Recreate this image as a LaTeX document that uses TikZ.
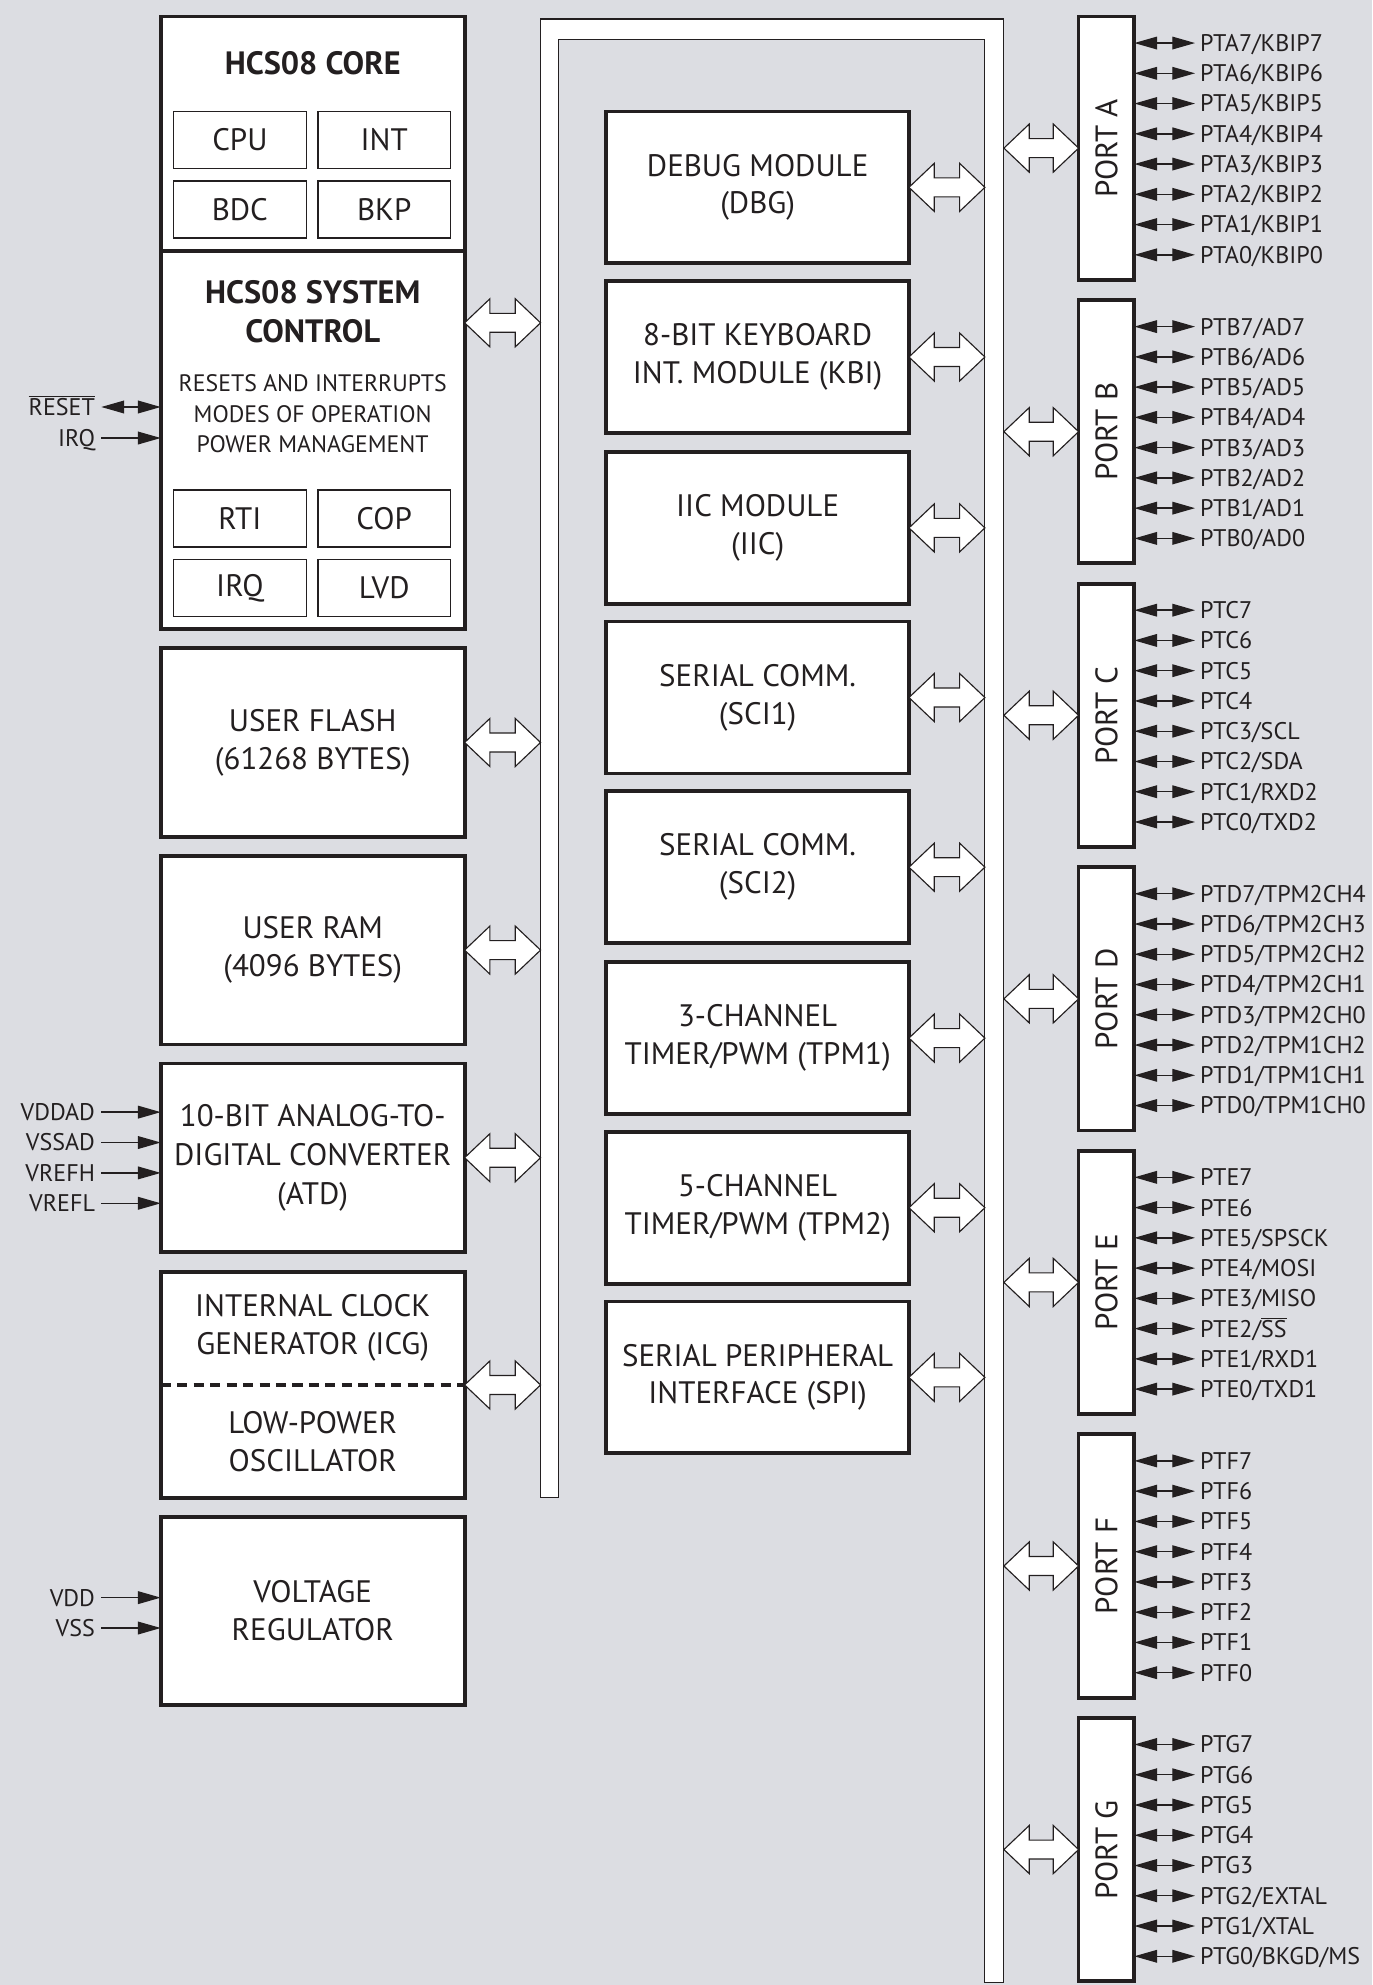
\documentclass[tikz,border=0pt]{standalone}
\usepackage{fontspec}
\setmainfont{PT Sans}
\usetikzlibrary{arrows.meta,calc}
\definecolor{bg}{RGB}{220,221,226}
\definecolor{ink}{RGB}{35,31,32}
\newcommand\fMod{\fontsize{24.5}{30}\selectfont}
\newcommand\fTitle{\fontsize{25.5}{31}\selectfont\bfseries}
\newcommand\fSmall{\fontsize{18.8}{24}\selectfont}
\newcommand\fPin{\fontsize{19}{24}\selectfont}
\newcommand\hollowarr[2]{%
  \draw[hollow] let \p1=(#1), \p2=(#2) in
   (\x1,\y1) -- (\x1+20pt,\y1+19pt) -- (\x1+20pt,\y1+7.5pt) -- (\x2-20pt,\y1+7.5pt)
   -- (\x2-20pt,\y1+19pt) -- (\x2,\y1) -- (\x2-20pt,\y1-19pt) -- (\x2-20pt,\y1-7.5pt)
   -- (\x1+20pt,\y1-7.5pt) -- (\x1+20pt,\y1-19pt) -- cycle;}
\newcommand\portbox[2]{%
  \def\curP{#1}\def\curI{#2}%
  \node[portbox] (port#1) at (874,{117+224*#2}) {};
  \node[rotate=90,font=\fMod,text=ink] (plab#1) at (port#1) {PORT #1};
  \hollowarr{port#1.west -| busR}{port#1.west}}
\newcommand\onepin[2]{%
  \node[pinlab] (pin\curP#1) at (944,{13+224*\curI+21+23.9*#1}) {#2};
  \draw[pinarr] (port\curP.east |- pin\curP#1.west) -- (pin\curP#1.west);}
\newcommand\pins[8]{\onepin{0}{#1}\onepin{1}{#2}\onepin{2}{#3}\onepin{3}{#4}%
  \onepin{4}{#5}\onepin{5}{#6}\onepin{6}{#7}\onepin{7}{#8}}
\begin{document}
\begin{tikzpicture}[x=1pt,y=-1pt,
  bigbox/.style={draw=ink,fill=white,line width=3pt,inner sep=0pt,outer sep=0pt,
    align=center,font=\fMod,text=ink},
  subbox/.style={draw=ink,fill=white,line width=1.2pt,minimum width=105,
    minimum height=45,inner sep=0pt,outer sep=0pt,font=\fMod,text=ink},
  modbox/.style={bigbox,minimum width=239,minimum height=120},
  leftbox/.style={bigbox,minimum width=240,minimum height=149},
  portbox/.style={draw=ink,fill=white,line width=3pt,minimum width=44,
    minimum height=208,inner sep=0pt,outer sep=0pt},
  hollow/.style={draw=ink,fill=white,line width=0.9pt,line join=miter},
  pinlab/.style={anchor=west,inner xsep=4pt,inner ysep=0pt,outer sep=0pt,
    text height=13.3pt,text depth=0pt,font=\fPin,text=ink},
  inlab/.style={anchor=east,inner xsep=5pt,inner ysep=0pt,outer sep=0pt,
    text height=13.3pt,text depth=0pt,font=\fPin,text=ink},
  pinarr/.style={draw=ink,line width=1.1pt,
    {Triangle[length=18pt,width=10pt]}-{Triangle[length=18pt,width=10pt]}},
  inarr/.style={draw=ink,line width=1.1pt,-{Triangle[length=18pt,width=10pt]}},
]
\path[fill=bg] (0,0) rectangle (1084,1568);
\useasboundingbox (0,0) rectangle (1084,1568);

% bus
\path[draw=ink,fill=white,line width=0.9pt]
  (427,1183) -- (427,15) -- (793,15) -- (793,1566) -- (778,1566)
  -- (778,31) -- (441,31) -- (441,1183) -- cycle;
\coordinate (busL) at (427,0);
\coordinate (busLi) at (441,0);
\coordinate (busRi) at (778,0);
\coordinate (busR) at (793,0);

% core
\node[bigbox,minimum width=240,minimum height=185] (core) at (247,105.5) {};
\node[font=\fTitle,text=ink] (coretitle) at (247,50) {HCS08 CORE};
\node[subbox] (cpu) at (189.5,110.5) {CPU};
\node[subbox] (int) at (303.5,110.5) {INT};
\node[subbox] (bdc) at (189.5,165.5) {BDC};
\node[subbox] (bkp) at (303.5,165.5) {BKP};

% system control
\node[bigbox,minimum width=240,minimum height=299] (sys) at (247,347.5) {};
\node[font=\fTitle,text=ink,align=center] (systitle) at (247,246.5) {HCS08 SYSTEM\\CONTROL};
\node[font=\fSmall,text=ink,align=center] (sysdesc) at (247,327)
  {RESETS AND INTERRUPTS\\MODES OF OPERATION\\POWER MANAGEMENT};
\node[subbox] (rti) at (189.5,409.5) {RTI};
\node[subbox] (cop) at (303.5,409.5) {COP};
\node[subbox] (irq) at (189.5,464.5) {IRQ};
\node[subbox] (lvd) at (303.5,464.5) {LVD};

\node[inlab] (reset) at (80,321.5) {$\overline{\mbox{RESET}}$};
\node[inlab] (irqin) at (80,346) {IRQ};
\draw[pinarr] (reset.east) -- (reset.east -| sys.west);
\draw[inarr] (irqin.east) -- (irqin.east -| sys.west);

% left column
\node[leftbox] (flash) at (247,586.5) {USER FLASH\\(61268 BYTES)};
\node[leftbox] (ram) at (247,750.5) {USER RAM\\(4096 BYTES)};
\node[leftbox,font=\fontsize{24.5}{31}\selectfont] (atd) at (247,914.5)
  {10-BIT ANALOG-TO-\\DIGITAL CONVERTER\\(ATD)};
\node[bigbox,minimum width=240,minimum height=178] (icg) at (247,1094) {};
\draw[ink,line width=2.6pt,dash pattern=on 8pt off 5pt] (icg.west) -- (icg.east);
\node[font=\fMod,text=ink,align=center] (icgtext) at (247,1049) {INTERNAL CLOCK\\GENERATOR (ICG)};
\node[font=\fMod,text=ink,align=center] (osctext) at (247,1139) {LOW-POWER\\OSCILLATOR};
\node[leftbox] (vreg) at (247,1272.5) {VOLTAGE\\REGULATOR};

\node[inlab] (vddad) at (80,878.5) {VDDAD};
\node[inlab] (vssad) at (80,902.5) {VSSAD};
\node[inlab] (vrefh) at (80,926.5) {VREFH};
\node[inlab] (vrefl) at (80,950.5) {VREFL};
\draw[inarr] (vddad.east) -- (vddad.east -| atd.west);
\draw[inarr] (vssad.east) -- (vssad.east -| atd.west);
\draw[inarr] (vrefh.east) -- (vrefh.east -| atd.west);
\draw[inarr] (vrefl.east) -- (vrefl.east -| atd.west);
\node[inlab] (vdd) at (80,1262) {VDD};
\node[inlab] (vss) at (80,1286) {VSS};
\draw[inarr] (vdd.east) -- (vdd.east -| vreg.west);
\draw[inarr] (vss.east) -- (vss.east -| vreg.west);

% left bus arrows
\coordinate (sysA) at (367,255);
\hollowarr{sysA}{sysA -| busL}
\hollowarr{flash.east}{flash.east -| busL}
\hollowarr{ram.east}{ram.east -| busL}
\hollowarr{atd.east}{atd.east -| busL}
\hollowarr{icg.east}{icg.east -| busL}

% middle modules
\node[modbox] (dbg) at (598.5,148) {DEBUG MODULE\\(DBG)};
\node[modbox] (kbi) at (598.5,282) {8-BIT KEYBOARD\\INT. MODULE (KBI)};
\node[modbox] (iic) at (598.5,417) {IIC MODULE\\(IIC)};
\node[modbox] (sci1) at (598.5,551) {SERIAL COMM.\\(SCI1)};
\node[modbox] (sci2) at (598.5,685) {SERIAL COMM.\\(SCI2)};
\node[modbox] (tpm1) at (598.5,820) {3-CHANNEL\\TIMER/PWM (TPM1)};
\node[modbox] (tpm2) at (598.5,954) {5-CHANNEL\\TIMER/PWM (TPM2)};
\node[modbox] (spi) at (598.5,1088) {SERIAL PERIPHERAL\\INTERFACE (SPI)};
\hollowarr{dbg.east}{dbg.east -| busRi}
\hollowarr{kbi.east}{kbi.east -| busRi}
\hollowarr{iic.east}{iic.east -| busRi}
\hollowarr{sci1.east}{sci1.east -| busRi}
\hollowarr{sci2.east}{sci2.east -| busRi}
\hollowarr{tpm1.east}{tpm1.east -| busRi}
\hollowarr{tpm2.east}{tpm2.east -| busRi}
\hollowarr{spi.east}{spi.east -| busRi}

% ports
\portbox{A}{0}
\pins{PTA7/KBIP7}{PTA6/KBIP6}{PTA5/KBIP5}{PTA4/KBIP4}{PTA3/KBIP3}{PTA2/KBIP2}{PTA1/KBIP1}{PTA0/KBIP0}
\portbox{B}{1}
\pins{PTB7/AD7}{PTB6/AD6}{PTB5/AD5}{PTB4/AD4}{PTB3/AD3}{PTB2/AD2}{PTB1/AD1}{PTB0/AD0}
\portbox{C}{2}
\pins{PTC7}{PTC6}{PTC5}{PTC4}{PTC3/SCL}{PTC2/SDA}{PTC1/RXD2}{PTC0/TXD2}
\portbox{D}{3}
\pins{PTD7/TPM2CH4}{PTD6/TPM2CH3}{PTD5/TPM2CH2}{PTD4/TPM2CH1}{PTD3/TPM2CH0}{PTD2/TPM1CH2}{PTD1/TPM1CH1}{PTD0/TPM1CH0}
\portbox{E}{4}
\pins{PTE7}{PTE6}{PTE5/SPSCK}{PTE4/MOSI}{PTE3/MISO}{PTE2/$\overline{\mbox{SS}}$}{PTE1/RXD1}{PTE0/TXD1}
\portbox{F}{5}
\pins{PTF7}{PTF6}{PTF5}{PTF4}{PTF3}{PTF2}{PTF1}{PTF0}
\portbox{G}{6}
\pins{PTG7}{PTG6}{PTG5}{PTG4}{PTG3}{PTG2/EXTAL}{PTG1/XTAL}{PTG0/BKGD/MS}
\end{tikzpicture}
\end{document}
